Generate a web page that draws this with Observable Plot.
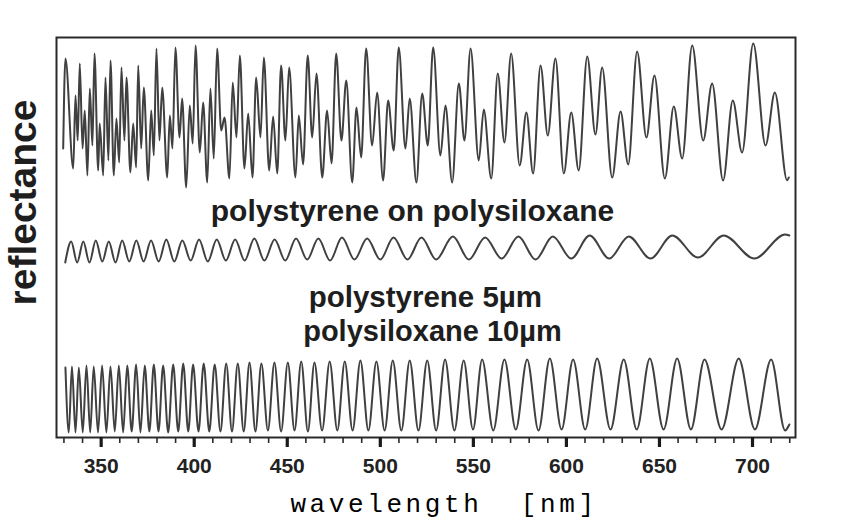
<!DOCTYPE html>
<html><head><meta charset="utf-8">
<script src="https://cdn.jsdelivr.net/npm/d3@7"></script>
<script src="https://cdn.jsdelivr.net/npm/@observablehq/plot@0.6"></script>
<style>body{margin:0;background:#fff}</style>
</head><body><div id="chart"></div>
<script>
// top trace: polystyrene on polysiloxane (extrema)
const topWl = [329.6,330.8,335.0,336.2,337.4,338.5,340.0,341.2,342.6,343.9,
345.3,346.4,348.4,349.2,351.1,352.3,353.9,355.0,356.8,358.2,
359.7,360.9,362.5,363.6,365.7,367.2,368.8,369.9,371.5,372.9,
375.3,376.9,378.3,379.7,381.3,382.8,385.5,386.9,388.3,389.9,
392.1,393.5,395.7,397.6,399.2,400.7,403.0,404.8,407.0,408.7,
410.5,412.3,414.5,416.3,418.9,420.7,422.7,424.5,427.0,429.0,
431.3,433.3,435.6,437.4,440.3,442.4,444.6,446.7,449.0,451.0,
454.4,456.2,458.5,461.0,463.4,465.7,468.8,471.4,473.8,476.3,
479.1,481.7,484.9,487.2,489.7,492.4,495.6,498.3,501.5,504.2,
507.2,509.9,513.5,515.8,519.4,522.5,525.5,528.4,532.3,535.0,
538.6,542.2,545.2,548.5,552.9,555.6,559.6,563.1,566.7,570.3,
574.9,578.5,582.1,586.1,590.0,594.1,598.6,602.6,606.6,611.2,
615.6,619.2,624.6,629.1,633.2,638.0,643.0,647.3,652.9,657.7,
662.2,667.6,673.5,678.3,684.2,689.4,694.4,700.4,707.0,712.0,
718.6,719.5];
const topR = [289,379,269,342,297,374,289,327,262,349,
292,384,267,314,262,360,277,377,262,319,
275,370,297,360,265,314,270,372,289,350,
257,327,282,389,297,350,260,322,289,390,
300,339,250,332,294,392,285,335,255,349,
279,389,307,320,259,355,300,382,269,324,
260,360,300,380,267,321,264,372,297,370,
260,322,273,382,300,364,260,327,274,384,
297,357,255,330,280,389,292,345,257,337,
287,390,289,339,255,344,292,390,282,332,
255,354,297,389,277,328,259,364,295,384,
272,325,264,372,302,379,264,325,267,381,
303,370,260,326,273,386,300,362,259,331,
279,392,297,354,257,337,285,394,292,345,
257,260];

// middle trace: polystyrene 5 µm
const midPeakWl = [333.9,340.4,347.1,354.1,361.3,368.9,376.8,385.0,393.6,402.6,412.1,422.0,432.3,443.2,454.7,466.7,479.4,492.9,507.1,522.1,539.0,556.3,574.2,592.7,612.5,633.5,656.9,684.5,717.5];
const midPeakR = [196,196,197,196,197,197,197,198,197,198,198,198,199,198,199,199,200,199,200,200,201,200,201,201,202,201,202,202,203];
const midTroughWl = [330.7,337.1,343.7,350.6,357.7,365.1,372.8,380.9,389.3,398.1,407.3,417.0,427.1,437.7,448.9,460.7,473.0,486.1,500.0,514.6,530.0,547.6,565.2,583.4,602.6,623.0,645.2,670.7,701.0,719.8];
const midTroughR = [175,175,175,176,175,176,176,176,176,177,176,177,177,177,177,178,177,178,178,178,178,178,179,178,179,179,179,180,179,202];

// bottom trace: polysiloxane 10 µm
const botPeakWl = [330.8,334.3,338.0,342.1,346.0,350.5,355.0,359.5,364.0,368.8,373.4,378.3,383.3,388.7,394.1,399.4,405.1,411.0,417.2,423.4,429.7,436.1,443.1,450.3,457.5,464.6,472.8,480.9,489.3,497.9,506.7,515.8,525.2,534.8,544.8,554.7,566.7,578.9,591.1,603.6,616.5,630.8,644.8,659.5,674.2,692.6,710.0];
const botPeakR = [70,71,70,72,71,72,71,72,72,73,72,73,72,73,74,73,74,73,74,74,75,74,75,75,76,75,76,76,77,76,77,77,77,78,77,78,78,78,79,78,79,78,79,79,78,79,78];
const botTroughWl = [332.6,336.2,340.1,344.1,348.3,352.8,357.3,361.8,366.4,371.1,375.9,380.8,386.0,391.4,396.8,402.3,408.1,414.1,420.3,426.6,432.9,439.6,446.7,453.9,461.1,468.7,476.9,485.1,493.6,502.3,511.3,520.5,530.0,539.8,549.8,560.7,572.8,585.0,597.4,610.1,623.7,637.8,652.2,666.9,683.4,701.3,717.5,719.8];
const botTroughR = [5,5,5,5,5,5,6,5,6,5,6,6,5,6,6,6,6,6,6,6,6,7,6,7,6,7,7,7,7,7,7,7,7,7,8,7,8,7,8,8,8,8,8,8,8,8,7,13];

const majorTicks = [350,400,450,500,550,600,650,700];
const minorTicks = [330,340,350,360,370,380,390,400,410,420,430,440,450,460,470,480,490,500,510,520,530,540,550,560,570,580,590,600,610,620,630,640,650,660,670,680,690,700,710,720];
const labels = ["polystyrene on polysiloxane","polystyrene 5µm","polysiloxane 10µm"];

const pts = (wl, r) => wl.map((w, i) => ({wl: w, r: r[i]}));
const merge = (a, b) => a.concat(b).sort((p, q) => p.wl - q.wl);
const topData = pts(topWl, topR);
const midData = merge(pts(midPeakWl, midPeakR), pts(midTroughWl, midTroughR));
const botData = merge(pts(botPeakWl, botPeakR), pts(botTroughWl, botTroughR));

const ink = "#404040";
const chart = Plot.plot({
  width: 866, height: 520,
  marginLeft: 56, marginRight: 71, marginTop: 37, marginBottom: 83,
  x: {domain: [326, 723.1]},
  y: {domain: [0, 400], axis: null},
  style: {background: "#fff", fontFamily: "Liberation Sans, Arial, sans-serif"},
  marks: [
    Plot.line(topData, {x: "wl", y: "r", curve: "monotone-x", stroke: ink, strokeWidth: 2}),
    Plot.line(midData, {x: "wl", y: "r", curve: "monotone-x", stroke: ink, strokeWidth: 2}),
    Plot.line(botData, {x: "wl", y: "r", curve: "monotone-x", stroke: ink, strokeWidth: 2}),
    Plot.frame({stroke: "#2a2a2a", strokeWidth: 2}),
    Plot.axisX(minorTicks, {tickSize: 6, tickFormat: () => "", label: null, stroke: "#2a2a2a", strokeWidth: 1.6}),
    Plot.axisX(majorTicks, {tickSize: 10, tickPadding: 11, label: null, stroke: "#1a1a1a", strokeWidth: 3.2,
      fontSize: 21, fontWeight: "bold", fill: "#222"}),
    Plot.text([labels[0]], {x: 517.3, y: 226, text: d => d, fontSize: 30, fontWeight: "bold", fill: "#1e1e1e"}),
    Plot.text([labels[1]], {x: 524.2, y: 140, text: d => d, fontSize: 29.5, fontWeight: "bold", fill: "#1e1e1e"}),
    Plot.text([labels[2]], {x: 528, y: 106, text: d => d, fontSize: 29, fontWeight: "bold", fill: "#1e1e1e"}),
    Plot.text(["reflectance"], {frameAnchor: "left", textAnchor: "middle", dx: -33, dy: -35, rotate: -90,
      fontSize: 39, fontWeight: "bold", fill: "#1e1e1e"}),
    Plot.text(["wavelength\u00a0\u00a0[nm]"], {frameAnchor: "bottom", dx: 18, dy: 74, fontSize: 26, fill: "#000",
      fontFamily: "Liberation Mono, DejaVu Sans Mono, monospace"})
  ]
});
document.getElementById("chart").appendChild(chart);
d3.select(chart).selectAll("text").filter(function() { return this.textContent.startsWith("wavelength"); })
  .style("letter-spacing", "3.6px");
</script>
</body></html>
